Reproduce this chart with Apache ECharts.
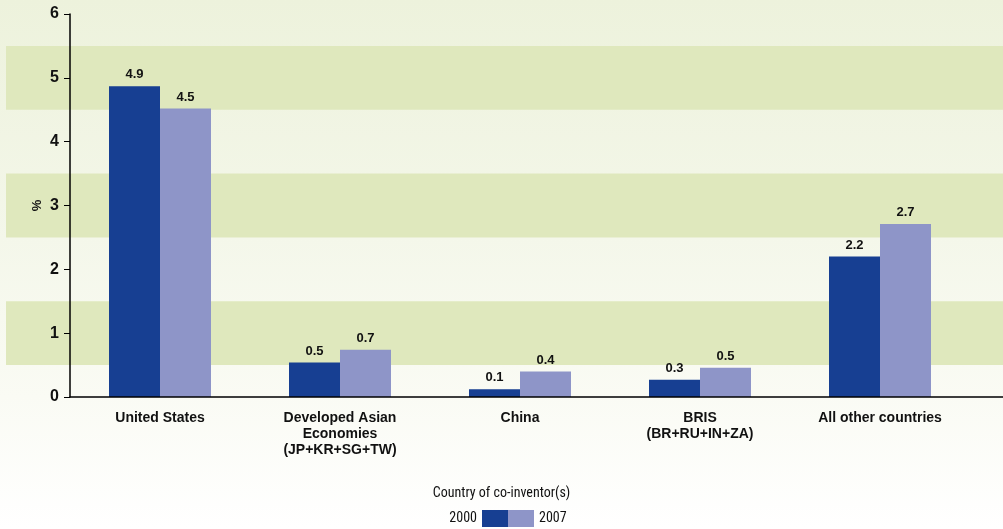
<!DOCTYPE html>
<html>
<head>
<meta charset="utf-8">
<script src="https://cdn.jsdelivr.net/npm/echarts@6/dist/echarts.min.js"></script>
<style>
html,body{margin:0;padding:0;}
body{background:linear-gradient(to bottom,#edf2dc 0%,#f4f7ea 45%,#fafbf4 75%,#ffffff 100%);}
#c{width:1003px;height:529px;}
</style>
</head>
<body>
<div id="c"></div>
<script>
const categories = ['United States', 'Developed Asian\nEconomies\n(JP+KR+SG+TW)', 'China', 'BRIS\n(BR+RU+IN+ZA)', 'All other countries'];
const values2000 = [4.87, 0.54, 0.12, 0.27, 2.2];
const values2007 = [4.52, 0.74, 0.40, 0.46, 2.71];
const bands = [[0.5, 1.5], [2.5, 3.5], [4.5, 5.5]];
const yTicks = [0, 1, 2, 3, 4, 5, 6];
const seriesNames = ['2000', '2007'];
const xTitle = 'Country of co-inventor(s)';

const DARK = '#173f92';
const LIGHT = '#8e95c8';
const BOLD = '"Liberation Sans", Arial, sans-serif';
const NARROW = '"Liberation Sans Narrow", "Roboto Condensed", "Liberation Sans", sans-serif';

const chart = echarts.init(document.getElementById('c'), null, {renderer: 'canvas'});
const lbl = {
  show: true, position: 'top', distance: 5,
  fontFamily: BOLD, fontWeight: 'bold', fontSize: 13, color: '#111',
  formatter: p => p.value.toFixed(1)
};
chart.setOption({
  backgroundColor: 'transparent',
  animation: false,
  grid: [
    {left: 6, right: 0, top: 14, bottom: 132, z: 0},
    {left: 70, right: 0, top: 14, bottom: 132},
    {left: 70, right: 33, top: 14, bottom: 132}
  ],
  title: {
    text: xTitle, left: 'center', top: 481,
    textStyle: {fontFamily: NARROW, fontWeight: 'normal', fontSize: 14, color: '#111'}
  },
  legend: [
    {data: [{name: seriesNames[0], icon: 'rect'}], align: 'right', right: 495, top: 510, itemWidth: 26, itemHeight: 17,
     itemGap: 0, padding: 0, textStyle: {fontFamily: NARROW, fontSize: 14, color: '#111'}},
    {data: [{name: seriesNames[1], icon: 'rect'}], left: 508, top: 510, itemWidth: 26, itemHeight: 17,
     itemGap: 0, padding: 0, textStyle: {fontFamily: NARROW, fontSize: 14, color: '#111'}}
  ],
  xAxis: [
    {gridIndex: 0, type: 'value', min: 0, max: 1, show: false},
    {gridIndex: 1, type: 'value', min: 0, max: 1, z: 10, axisLine: {show: true, onZero: false, lineStyle: {color: '#000', width: 1.5}},
     axisTick: {show: false}, axisLabel: {show: false}, splitLine: {show: false}},
    {gridIndex: 2, type: 'category', data: categories,
     axisLine: {show: false}, axisTick: {show: false},
     axisLabel: {interval: 0, margin: 13, fontFamily: BOLD, fontWeight: 'bold', fontSize: 14, lineHeight: 16, color: '#111'}}
  ],
  yAxis: [
    {gridIndex: 0, type: 'value', min: 0, max: 6, show: false},
    {gridIndex: 1, type: 'value', min: 0, max: 6, show: true, z: 10,
     name: '%', nameLocation: 'middle', nameGap: 26, nameRotate: 90,
     nameTextStyle: {fontFamily: BOLD, fontWeight: 'bold', fontSize: 13, color: '#111'},
     axisLine: {show: false}, axisTick: {show: false}, axisLabel: {show: false}, splitLine: {show: false}},
    {gridIndex: 2, type: 'value', min: 0, max: 6, interval: 1, z: 10,
     axisLine: {show: true, lineStyle: {color: '#000', width: 1.5}},
     axisTick: {show: true, length: 6, lineStyle: {color: '#000'}},
     splitLine: {show: false},
     axisLabel: {margin: 11, fontFamily: BOLD, fontWeight: 'bold', fontSize: 16, color: '#111',
       formatter: v => yTicks.includes(v) ? String(v) : ''}}
  ],
  series: [
    {type: 'line', xAxisIndex: 0, yAxisIndex: 0, data: [], silent: true, z: -5,
     markArea: {silent: true, z: -5, itemStyle: {color: '#dfe8bd', opacity: 1},
       data: bands.map(b => [{yAxis: b[0]}, {yAxis: b[1]}])}},
    {name: seriesNames[0], type: 'bar', xAxisIndex: 2, yAxisIndex: 2, data: values2000,
     barWidth: 51, barGap: '0%', itemStyle: {color: DARK}, label: lbl},
    {name: seriesNames[1], type: 'bar', xAxisIndex: 2, yAxisIndex: 2, data: values2007,
     barWidth: 51, barGap: '0%', itemStyle: {color: LIGHT}, label: lbl}
  ]
});
</script>
</body>
</html>
